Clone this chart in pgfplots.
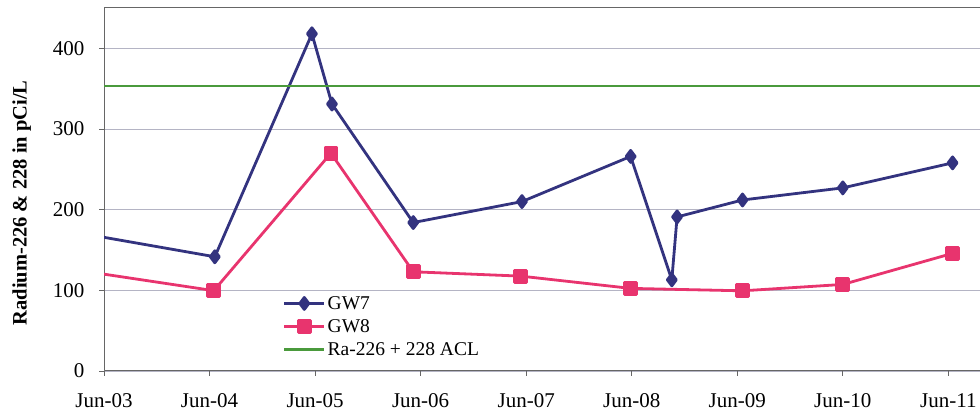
\documentclass[border=0pt]{standalone}
\usepackage{fontspec}
\setmainfont{Liberation Serif}
\usepackage{pgfplots}
\pgfplotsset{compat=1.18}
\definecolor{gwseven}{HTML}{33337F}
\definecolor{gweight}{HTML}{E8346E}
\definecolor{aclgreen}{HTML}{4A9A3C}
\definecolor{gridc}{HTML}{B4B4C4}
\begin{document}
\begin{tikzpicture}
\begin{axis}[
    scale only axis, width=876pt, height=363pt,
    xmin=0, xmax=8.3, ymin=0, ymax=450,
    xtick={0,1,2,3,4,5,6,7,8},
    xticklabels={Jun-03,Jun-04,Jun-05,Jun-06,Jun-07,Jun-08,Jun-09,Jun-10,Jun-11},
    ytick={0,100,200,300,400},
    xtick pos=bottom, ytick pos=left,
    ymajorgrids, grid style={gridc, line width=0.8pt},
    axis line style={black!60, line width=1pt},
    tick align=outside, major tick length=5pt,
    tick style={black!60, line width=0.8pt},
    ticklabel style={font=\fontsize{21}{24}\selectfont},
    /pgf/number format/assume math mode=true,
    xticklabel style={yshift=-14pt},
    yticklabel style={xshift=-11pt},
    ylabel={Radium-226 \& 228 in pCi/L},
    ylabel style={font=\fontsize{20.5}{24}\selectfont\bfseries,
        at={(axis description cs:-0.094,0.463)}, anchor=center},
    legend style={draw=none, fill=none, at={(axis description cs:0.204,0.212)},
        anchor=north west, inner sep=0pt, row sep=4.5pt,
        font=\fontsize{19.5}{22}\selectfont},
    legend cell align=left,
    legend image code/.code={\draw[mark repeat=2,mark phase=2,#1]
        plot coordinates {(0pt,0pt) (20pt,0pt) (40pt,0pt)};},
    line join=round,
]
\addplot[gwseven, line width=2.8pt, mark=diamond*, mark size=6pt, mark options={solid}]
coordinates {(-0.1,168) (1.05,141.6) (1.97,418) (2.16,331) (2.93,184) (3.96,210)
    (4.99,266) (5.38,113) (5.43,191) (6.05,212) (7.0,227) (8.04,258)};
\addlegendentry{GW7}
\addplot[gweight, line width=2.8pt, mark=square*, mark size=6pt, mark options={solid}]
coordinates {(-0.1,122) (1.04,99.6) (2.15,270) (2.93,123) (3.95,117.6)
    (4.99,102.4) (6.05,99.4) (7.0,107.3) (8.04,145.8)};
\addlegendentry{GW8}
\addplot[aclgreen, line width=2.4pt] coordinates {(-1,353) (10,353)};
\addlegendentry{Ra-226 + 228 ACL}
\end{axis}
\pgfresetboundingbox
\path (-104pt,-48pt) rectangle (876pt,371pt);
\end{tikzpicture}
\end{document}
